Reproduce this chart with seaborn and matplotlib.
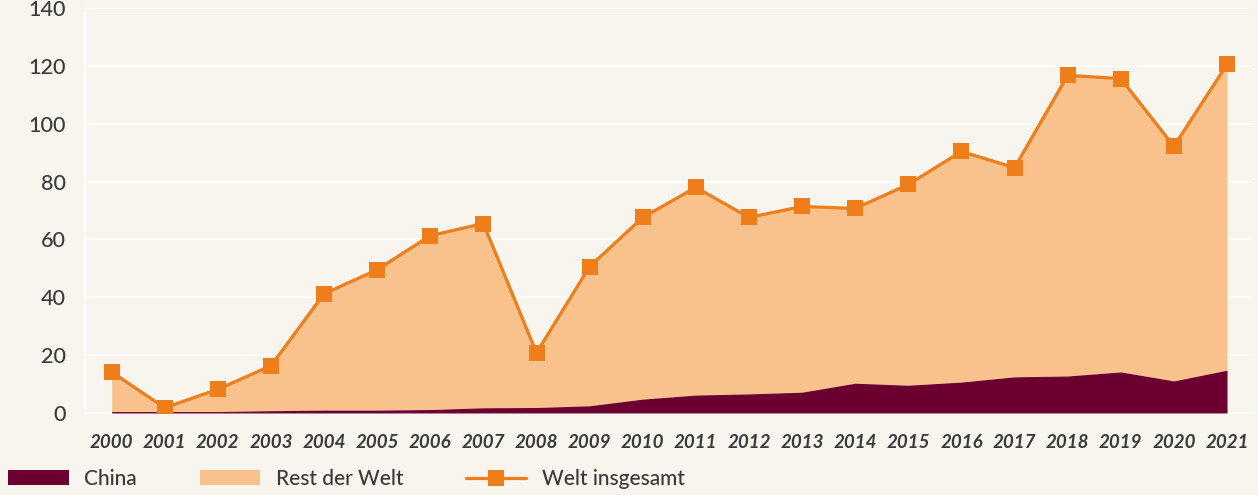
import numpy as np
import pandas as pd
import matplotlib
matplotlib.use("Agg")
import matplotlib.pyplot as plt
from matplotlib.patches import Patch
from matplotlib.lines import Line2D
import seaborn as sns

# data
years = list(range(2000, 2022))
china = [0.5, 0.5, 0.5, 0.8, 1.0, 1.0, 1.2, 1.8, 1.9, 2.5, 4.8, 6.2, 6.6, 7.2, 10.3, 9.6, 10.7, 12.5, 12.8, 14.2, 11.1, 14.8]
total = [14.2, 1.8, 8.2, 16.3, 41.2, 49.5, 61.3, 65.5, 20.8, 50.6, 67.6, 78.0, 67.6, 71.4, 70.7, 79.0, 90.4, 84.8, 116.7, 115.6, 92.2, 120.5]

df = pd.DataFrame({"Jahr": years, "China": china, "Welt insgesamt": total})

bg = "#f8f5ee"
c_china = "#6b0030"
c_rest = "#f9c28d"
c_line = "#ee7d1a"
txt = "#3a3a3a"

sns.set_theme(style="white", rc={"axes.facecolor": bg, "figure.facecolor": bg})
plt.rcParams["font.family"] = ["Lato", "DejaVu Sans"]
plt.rcParams["font.weight"] = "medium"

fig = plt.figure(figsize=(12.58, 4.95), dpi=100)
ax = fig.add_axes([85 / 1258, 82 / 495, 1167 / 1258, 405 / 495])

ax.fill_between(df["Jahr"], df["China"], df["Welt insgesamt"], color=c_rest, lw=0, zorder=3)
ax.fill_between(df["Jahr"], 0, df["China"], color=c_china, lw=0, zorder=3)
sns.lineplot(data=df, x="Jahr", y="Welt insgesamt", ax=ax, color=c_line, lw=2.3,
             marker="s", markersize=12, markeredgewidth=0, zorder=4)

ax.set_xlim(1999.5, 2021.47)
ax.set_ylim(0, 140)
ax.set_yticks(range(0, 141, 20))
ax.set_xticks(years)
ax.set_xlabel("")
ax.set_ylabel("")
ax.grid(axis="y", color="white", lw=1.5, zorder=0)
ax.grid(axis="x", visible=False)
for s in ["top", "right"]:
    ax.spines[s].set_visible(False)
for s in ["left", "bottom"]:
    ax.spines[s].set_color("white")
    ax.spines[s].set_linewidth(1.5)
ax.tick_params(axis="y", length=0, pad=14, labelsize=15.5, labelcolor=txt)
ax.tick_params(axis="x", length=0, pad=15, labelsize=13.5, labelcolor=txt)
for lab in ax.get_xticklabels():
    lab.set_fontstyle("italic")
    lab.set_fontweight("bold")

handles = [
    Patch(facecolor=c_china, edgecolor="none", label="China"),
    Patch(facecolor=c_rest, edgecolor="none", label="Rest der Welt"),
    Line2D([], [], color=c_line, lw=2.3, marker="s", markersize=12, markeredgewidth=0, label="Welt insgesamt"),
]
leg = fig.legend(handles=handles, loc="lower left", bbox_to_anchor=(0.005, 0.008), ncol=3, frameon=False,
                 fontsize=15, handlelength=2.9, handleheight=0.75, handletextpad=0.75, columnspacing=3.0,
                 borderaxespad=0, borderpad=0.1)
for t in leg.get_texts():
    t.set_color(txt)

fig.savefig("out.png", dpi=100, facecolor=bg)
